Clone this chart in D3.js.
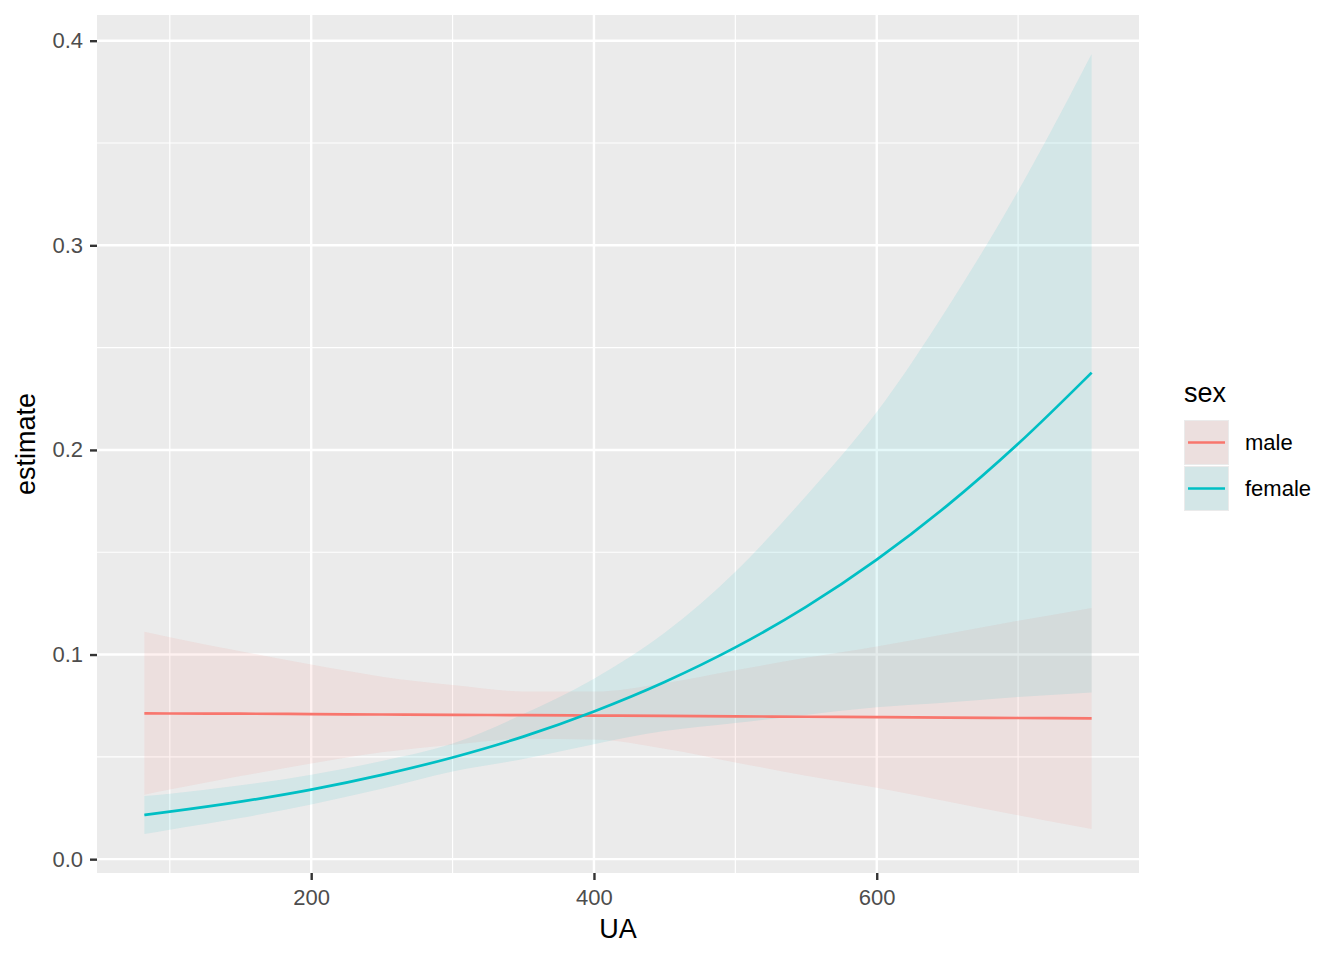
<!DOCTYPE html>
<html>
<head>
<meta charset="utf-8">
<script src="https://cdn.jsdelivr.net/npm/d3@7"></script>
<style>
  body { margin: 0; background: #fff; }
  text { font-family: "Liberation Sans", Arial, sans-serif; }
</style>
</head>
<body>
<div id="chart"></div>
<script>
// values
var ua = [82, 100, 150, 200, 250, 300, 350, 400, 450, 500, 550, 600, 650, 700, 752];

var maleEst   = [0.0713, 0.0712, 0.0711, 0.0709, 0.0707, 0.0705, 0.0704, 0.0702, 0.0700, 0.0698, 0.0696, 0.0694, 0.0692, 0.0690, 0.0688];
var maleHigh  = [0.1111, 0.1084, 0.1016, 0.0951, 0.0892, 0.0851, 0.0820, 0.0819, 0.0860, 0.0923, 0.0984, 0.1039, 0.1102, 0.1165, 0.1228];
var maleLow   = [0.0315, 0.0340, 0.0406, 0.0467, 0.0522, 0.0559, 0.0588, 0.0585, 0.0540, 0.0473, 0.0408, 0.0349, 0.0282, 0.0215, 0.0148];

var femaleEst  = [0.0216, 0.0232, 0.0281, 0.0340, 0.0412, 0.0497, 0.0599, 0.0722, 0.0866, 0.1035, 0.1233, 0.1464, 0.1729, 0.2030, 0.2378];
var femaleHigh = [0.0309, 0.0320, 0.0361, 0.0413, 0.0480, 0.0565, 0.0709, 0.0882, 0.1106, 0.1405, 0.1775, 0.2185, 0.2694, 0.3265, 0.3935];
var femaleLow  = [0.0123, 0.0144, 0.0201, 0.0267, 0.0344, 0.0429, 0.0489, 0.0562, 0.0626, 0.0665, 0.0705, 0.0742, 0.0766, 0.0792, 0.0815];

var groups = ["male", "female"];
var colors = ["#F8766D", "#00BFC4"];
var xTicks = [200, 400, 600];
var xMinor = [100, 300, 500, 700];
var yTicks = [0.0, 0.1, 0.2, 0.3, 0.4];
var yMinor = [0.05, 0.15, 0.25, 0.35];

var series = [
  { name: "male", est: maleEst, hi: maleHigh, lo: maleLow },
  { name: "female", est: femaleEst, hi: femaleHigh, lo: femaleLow }
];

var W = 1344, H = 960;
var margin = { top: 15, right: 205, bottom: 87, left: 97 };
var width = W - margin.left - margin.right,
    height = H - margin.top - margin.bottom;

var svg = d3.select("#chart").append("svg")
  .attr("width", W)
  .attr("height", H);

var g = svg.append("g")
  .attr("transform", "translate(" + margin.left + "," + margin.top + ")");

// ggplot style 5% expansion
var xr = d3.extent(ua);
var xPad = (xr[1] - xr[0]) * 0.05;
var allY = maleHigh.concat(maleLow, femaleHigh, femaleLow);
var yr = d3.extent(allY);
var yPad = (yr[1] - yr[0]) * 0.05;

var x = d3.scaleLinear().domain([xr[0] - xPad, xr[1] + xPad]).range([0, width]);
var y = d3.scaleLinear().domain([yr[0] - yPad, yr[1] + yPad]).range([height, 0]);
var color = d3.scaleOrdinal().domain(groups).range(colors);

// panel
g.append("rect")
  .attr("width", width)
  .attr("height", height)
  .attr("fill", "#EBEBEB");

// grid
g.selectAll(".xminor").data(xMinor).enter().append("line")
  .attr("x1", d => x(d)).attr("x2", d => x(d))
  .attr("y1", 0).attr("y2", height)
  .attr("stroke", "#fff").attr("stroke-width", 1.2);
g.selectAll(".yminor").data(yMinor).enter().append("line")
  .attr("y1", d => y(d)).attr("y2", d => y(d))
  .attr("x1", 0).attr("x2", width)
  .attr("stroke", "#fff").attr("stroke-width", 1.2);
g.selectAll(".xmajor").data(xTicks).enter().append("line")
  .attr("x1", d => x(d)).attr("x2", d => x(d))
  .attr("y1", 0).attr("y2", height)
  .attr("stroke", "#fff").attr("stroke-width", 2.4);
g.selectAll(".ymajor").data(yTicks).enter().append("line")
  .attr("y1", d => y(d)).attr("y2", d => y(d))
  .attr("x1", 0).attr("x2", width)
  .attr("stroke", "#fff").attr("stroke-width", 2.4);

// ribbons
var area = d3.area()
  .x((d, i) => x(ua[i]))
  .y0(d => y(d[0]))
  .y1(d => y(d[1]))
  .curve(d3.curveMonotoneX);

series.forEach(function(s) {
  var pts = s.lo.map((v, i) => [v, s.hi[i]]);
  g.append("path")
    .datum(pts)
    .attr("d", area)
    .attr("fill", color(s.name))
    .attr("fill-opacity", 0.1);
});

// lines
var line = d3.line()
  .x((d, i) => x(ua[i]))
  .y(d => y(d))
  .curve(d3.curveMonotoneX);

series.forEach(function(s) {
  g.append("path")
    .datum(s.est)
    .attr("d", line)
    .attr("fill", "none")
    .attr("stroke", color(s.name))
    .attr("stroke-width", 2.7);
});

// axes
var xAxis = g.append("g")
  .attr("transform", "translate(0," + height + ")")
  .call(d3.axisBottom(x).tickValues(xTicks).tickSize(7).tickPadding(4).tickFormat(d3.format("d")));
var yAxis = g.append("g")
  .call(d3.axisLeft(y).tickValues(yTicks).tickSize(7).tickPadding(7).tickFormat(d3.format(".1f")));

[xAxis, yAxis].forEach(function(a) {
  a.select(".domain").remove();
  a.selectAll(".tick line").attr("stroke", "#333").attr("stroke-width", 2.4);
  a.selectAll(".tick text")
    .attr("fill", "#4D4D4D")
    .style("font-size", "22px")
    .style("font-family", "Liberation Sans, Arial, sans-serif");
});
xAxis.selectAll(".tick text").attr("y", 16).attr("dy", "0.71em");

// axis titles
svg.append("text")
  .attr("x", margin.left + width / 2)
  .attr("y", 938)
  .attr("text-anchor", "middle")
  .style("font-size", "27px")
  .text("UA");

svg.append("text")
  .attr("transform", "translate(35," + (margin.top + height / 2) + ") rotate(-90)")
  .attr("text-anchor", "middle")
  .style("font-size", "27px")
  .text("estimate");

// legend
var legend = svg.append("g").attr("transform", "translate(1184,0)");
legend.append("text")
  .attr("x", 0)
  .attr("y", 402)
  .style("font-size", "27px")
  .text("sex");

var keys = legend.selectAll(".key").data(groups).enter().append("g")
  .attr("transform", (d, i) => "translate(0," + (420 + i * 46) + ")");
keys.append("rect")
  .attr("width", 45).attr("height", 45)
  .attr("fill", "#EBEBEB");
keys.append("rect")
  .attr("x", 1).attr("y", 1)
  .attr("width", 43).attr("height", 43)
  .attr("fill", d => color(d))
  .attr("fill-opacity", 0.1);
keys.append("line")
  .attr("x1", 4).attr("x2", 41)
  .attr("y1", 22.5).attr("y2", 22.5)
  .attr("stroke", d => color(d))
  .attr("stroke-width", 2.7);
keys.append("text")
  .attr("x", 61)
  .attr("y", 22.5)
  .attr("dy", "0.36em")
  .style("font-size", "22px")
  .text(d => d);
</script>
</body>
</html>
